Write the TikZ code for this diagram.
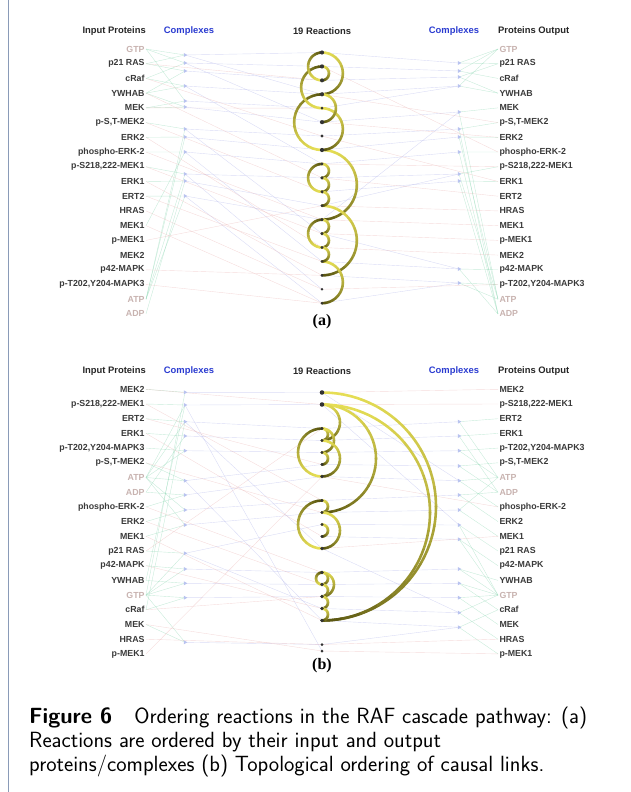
\documentclass[tikz,border=0pt]{standalone}
\usepackage{fontspec}
\newfontfamily\labelfont{Liberation Sans}
\newfontfamily\panelfont{Liberation Serif}
\usetikzlibrary{shapes.geometric, calc}
\definecolor{protdark}{HTML}{3A3A3A}
\definecolor{protpale}{HTML}{C8B3B0}
\definecolor{headblue}{HTML}{2A3BD0}
\definecolor{arcyellow}{HTML}{E6DE55}
\definecolor{arcdark}{HTML}{5C5812}
\definecolor{linkgreen}{HTML}{86D4AE}
\definecolor{linkblue}{HTML}{A4A8E6}
\definecolor{linkpink}{HTML}{E6A8A8}
\definecolor{cplx}{HTML}{B9C3EF}
\definecolor{dotgrey}{HTML}{333333}
\definecolor{framegrey}{HTML}{8A9BB8}
\pgfdeclarelayer{links}
\pgfdeclarelayer{arcs}
\pgfsetlayers{links,arcs,main}
\tikzset{
  prot/.style={font=\labelfont\bfseries\fontsize{8.8}{10}\selectfont, text=protdark, inner sep=0pt, outer sep=1.5pt},
  pale/.style={prot, text=protpale},
  head/.style={font=\labelfont\bfseries\fontsize{9.4}{11}\selectfont, text=black!85, inner sep=0pt},
  cplxhead/.style={head, text=headblue},
  rdot/.style={circle, fill=dotgrey, inner sep=0pt, minimum size=#1},
  cplxmark/.style={isosceles triangle, isosceles triangle apex angle=60, fill=cplx, inner sep=0pt, minimum size=3.5pt},
  panel/.style={font=\panelfont\bfseries\fontsize{16}{18}\selectfont, text=black, inner sep=0pt},
  green link/.style={draw=linkgreen, opacity=0.45, line width=0.4pt},
  blue link/.style={draw=linkblue, opacity=0.4, line width=0.4pt},
  pink link/.style={draw=linkpink, opacity=0.4, line width=0.4pt},
  arcline/.style={line width=2.6pt, line cap=round},
}
% half circle from reaction #1 to reaction #2, starting at angle #3 (90 = right side, -90 = left side)
\newcommand{\reacarc}[3]{%
  \foreach \k in {0,...,17}{%
    \pgfmathsetmacro{\arcang}{#3-10*\k}%
    \pgfmathtruncatemacro{\arcmix}{100*(\k/17)^1.5}%
    \draw[arcline, draw=arcdark!\arcmix!arcyellow]
      let \p1=(#1.center), \p2=(#2.center), \p3=($(\p1)!.5!(\p2)$), \n1={veclen(\x2-\x1,\y2-\y1)/2}
      in ($(\p3)+(\arcang:\n1)$) arc[start angle=\arcang, delta angle=-10, radius=\n1];
  }%
}

\begin{document}
\begin{tikzpicture}[x=1pt, y=-1pt]
  \useasboundingbox (0,0) rectangle (631,792);
  \draw[framegrey, line width=1pt] (8,0) -- (8,792);

  % ---------- (a) ----------
  \node[head, anchor=east] (hinA) at (146,31) {Input Proteins};
  \node[cplxhead] (hcxA) at (189,31) {Complexes};
  \node[head] (hrA) at (322,31) {19 Reactions};
  \node[cplxhead] (hcyA) at (454,31) {Complexes};
  \node[head, anchor=west] (houtA) at (498,31) {Proteins Output};

  \foreach \pname/\pstyle [count=\i] in {GTP/pale, p21 RAS/prot, cRaf/prot, YWHAB/prot, MEK/prot, p-S{,}T-MEK2/prot, ERK2/prot, phospho-ERK-2/prot, p-S218{,}222-MEK1/prot, ERK1/prot, ERT2/prot, HRAS/prot, MEK1/prot, p-MEK1/prot, MEK2/prot, p42-MAPK/prot, p-T202{,}Y204-MAPK3/prot, ATP/pale, ADP/pale}{
    \pgfmathsetmacro{\py}{49+14.72*(\i-1)}
    \node[\pstyle, anchor=east] (inA\i) at (146,\py) {\pname};
    \node[\pstyle, anchor=west] (outA\i) at (498,\py) {\pname};
  }
  \foreach \s [count=\i] in {4.2,4.2,4,4.2,3,4.2,3.2,4.2,3,3.6,3.4,3,3.4,3.4,3.4,2.8,2.8,2.8,2.8}{
    \pgfmathsetmacro{\ry}{52.5+13.93*(\i-1)}
    \node[rdot=\s pt] (rA\i) at (322,\ry) {};
  }
  \foreach \cy [count=\i] in {55,63,71,86,101,107,129,137,152,174,181,196}
    \node[cplxmark] (cxA\i) at (185,\cy) {};
  \foreach \cy [count=\i] in {63,71,77,86,112,129,137,152,174,181,269,283}
    \node[cplxmark] (cyA\i) at (459,\cy) {};

  \begin{pgfonlayer}{links}
    \foreach \ia/\ib in {1/1,2/1,1/2,3/2,2/3,4/3,3/4,4/4,1/5,5/5,4/6,5/6,6/7,18/7,7/8,18/8,8/9,13/9,9/10,18/10,10/11,19/11,11/12,18/12}
      \draw[green link] (inA\ia.east) -- (cxA\ib.center);
    \foreach \ia/\ib in {1/1,2/2,3/3,4/4,5/5,6/6,7/7,8/8,9/9,10/10,11/12,12/13,2/6,4/9,7/14,9/16,10/18,12/19,1/4}
      \draw[blue link] (cxA\ia.center) -- (rA\ib.center);
    \foreach \ia/\ib in {6/11,7/15,9/14,10/17,11/16,12/18,13/19,3/7,4/10,5/5,14/12,16/17,17/19,2/3,8/13}
      \draw[pink link] (inA\ia.east) -- (rA\ib.center);
    \foreach \ia/\ib in {1/1,2/2,3/3,4/4,6/5,7/6,8/7,9/8,10/9,11/10,16/11,17/12,5/4,12/9,14/11,19/12,13/5}
      \draw[blue link] (rA\ia.center) -- (cyA\ib.center);
    \foreach \ia/\ib in {1/1,1/2,2/1,2/3,3/2,3/4,4/4,4/1,5/5,5/18,6/6,6/19,7/7,7/18,8/8,8/19,9/9,9/18,10/10,10/19,11/16,11/19,12/17,12/18}
      \draw[green link] (cyA\ia.center) -- (outA\ib.west);
    \foreach \ia/\ib in {4/6,6/7,9/9,10/11,12/12,13/13,14/14,15/15,18/17,2/8,7/10}
      \draw[pink link] (rA\ia.center) -- (outA\ib.west);
  \end{pgfonlayer}

  \begin{pgfonlayer}{arcs}
    \foreach \ia/\ib in {8/13,12/17,1/4,5/8,16/19,4/6,2/3,9/10,10/11,11/12,13/14,14/15,15/16}
      {\reacarc{rA\ia}{rA\ib}{90}}
    \foreach \ia/\ib in {4/8,2/5,1/3,9/11,13/15}
      {\reacarc{rA\ia}{rA\ib}{-90}}
  \end{pgfonlayer}

  \node[panel] (labA) at (322,322) {(a)};

  % ---------- (b) ----------
  \node[head, anchor=east] (hinB) at (146,371) {Input Proteins};
  \node[cplxhead] (hcxB) at (189,371) {Complexes};
  \node[head] (hrB) at (322,371) {19 Reactions};
  \node[cplxhead] (hcyB) at (454,371) {Complexes};
  \node[head, anchor=west] (houtB) at (498,371) {Proteins Output};

  \foreach \pname/\pstyle [count=\i] in {MEK2/prot, p-S218{,}222-MEK1/prot, ERT2/prot, ERK1/prot, p-T202{,}Y204-MAPK3/prot, p-S{,}T-MEK2/prot, ATP/pale, ADP/pale, phospho-ERK-2/prot, ERK2/prot, MEK1/prot, p21 RAS/prot, p42-MAPK/prot, YWHAB/prot, GTP/pale, cRaf/prot, MEK/prot, HRAS/prot, p-MEK1/prot}{
    \pgfmathsetmacro{\py}{389.3+14.7*(\i-1)}
    \node[\pstyle, anchor=east] (inB\i) at (146,\py) {\pname};
    \node[\pstyle, anchor=west] (outB\i) at (498,\py) {\pname};
  }
  \foreach \ry/\s [count=\i] in {392.5/4.6, 404.5/4.6, 428.5/3.2, 440.5/3.2, 452.5/3.2, 464.5/3.2, 476.5/3.6, 500.5/3.2, 512.5/3.2, 524.5/3.2, 536.5/3.2, 548.5/3.6, 572.5/3.6, 584.5/3.6, 596.5/3.6, 608.5/3.6, 620.5/3.8, 644.5/3, 651/3}
    \node[rdot=\s pt] (rB\i) at (322,\ry) {};
  \foreach \cy [count=\i] in {392.3,405,421.7,436,450.7,480.7,495,510,525,553.3,569,583.3,597.7,642.3}
    \node[cplxmark] (cxB\i) at (185,\cy) {};
  \foreach \cy [count=\i] in {421.7,436,450.7,466,480.7,495,510,525,539.3,569,583.3,597.7,612.7,627.3}
    \node[cplxmark] (cyB\i) at (459,\cy) {};

  \begin{pgfonlayer}{links}
    \foreach \ia/\ib in {1/1,15/1,2/2,7/2,3/3,7/3,4/4,8/4,5/5,7/5,6/6,7/6,9/7,8/7,10/8,7/8,11/9,7/9,12/10,15/10,13/11,15/11,14/12,15/12,16/13,15/13,17/14,15/14,14/2,16/3}
      \draw[green link] (inB\ia.east) -- (cxB\ib.center);
    \foreach \ia/\ib in {1/1,2/2,3/3,4/4,5/5,6/6,7/7,8/8,9/9,10/10,11/13,12/14,13/15,14/18,3/12,6/17,10/16,2/19}
      \draw[blue link] (cxB\ia.center) -- (rB\ib.center);
    \foreach \ia/\ib in {1/2,2/8,3/6,4/11,6/9,9/13,10/14,11/17,12/3,13/16,16/15,17/19,18/18,19/7}
      \draw[pink link] (inB\ia.east) -- (rB\ib.center);
    \foreach \ia/\ib in {3/1,4/2,5/3,6/4,7/5,8/6,9/7,10/8,11/9,13/10,14/11,15/12,16/13,17/14,1/5,2/8,12/13,18/14}
      \draw[blue link] (rB\ia.center) -- (cyB\ib.center);
    \foreach \ia/\ib in {1/3,1/7,2/4,2/8,3/5,3/7,4/6,4/8,5/9,5/7,6/10,6/8,7/11,7/7,8/12,8/15,9/13,9/15,10/14,10/15,11/16,11/15,12/17,12/15,13/18,13/15,14/19,14/16}
      \draw[green link] (cyB\ia.center) -- (outB\ib.west);
    \foreach \ia/\ib in {1/1,2/2,19/19,18/18,12/11,7/9}
      \draw[pink link] (rB\ia.center) -- (outB\ib.west);
  \end{pgfonlayer}

  \begin{pgfonlayer}{arcs}
    \foreach \ia/\ib in {1/17,2/17,2/9,2/4,3/4,3/5,4/7,5/6,8/9,9/12,10/11,13/15,13/14,14/15,15/16,16/17}
      {\reacarc{rB\ia}{rB\ib}{90}}
    \foreach \ia/\ib in {3/7,8/12,13/14}
      {\reacarc{rB\ia}{rB\ib}{-90}}
  \end{pgfonlayer}

  \node[panel] (labB) at (322,666) {(b)};

  % ---------- caption ----------
  \node[font=\sffamily\fontsize{22}{24}\selectfont, anchor=north west, align=left, inner sep=0pt] (cap) at (29,707)
    {\textbf{Figure 6}\quad Ordering reactions in the RAF cascade pathway: (a)\\
     Reactions are ordered by their input and output\\
     proteins/complexes (b) Topological ordering of causal links.};
\end{tikzpicture}
\end{document}
